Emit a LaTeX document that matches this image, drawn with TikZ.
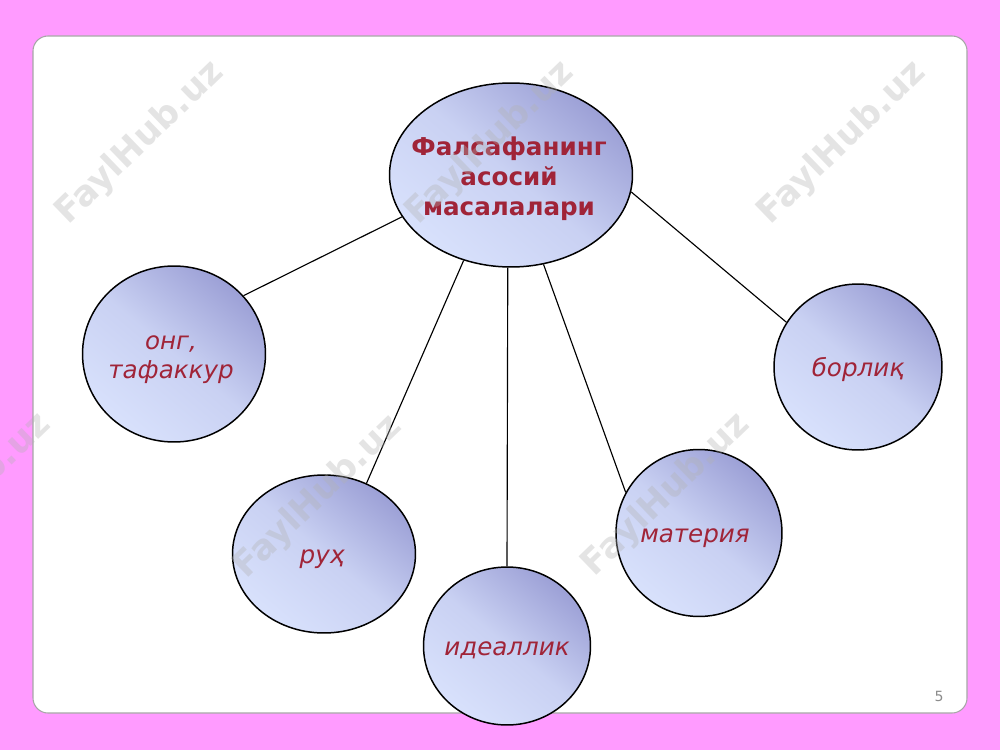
\documentclass[tikz,border=0pt]{standalone}
\usepackage{fontspec}
\setmainfont{DejaVu Sans}[ItalicFont={DejaVu Sans Oblique},BoldFont={DejaVu Sans Bold}]
\usetikzlibrary{shapes.geometric}
\definecolor{slidepink}{RGB}{255,155,255}
\definecolor{bubdark}{RGB}{156,160,214}
\definecolor{bublight}{RGB}{216,225,252}
\definecolor{wordred}{RGB}{160,36,56}
\tikzset{
	bubble/.style={ellipse, draw=black, line width=0.85pt, inner sep=0pt,
		top color=bubdark, bottom color=bublight, middle color=bublight!75!bubdark, shading angle=-40},
	word/.style={text=wordred, font=\fontsize{14}{16.5}\selectfont\itshape, align=center},
	bigword/.style={text=wordred, font=\fontsize{14}{17}\selectfont\bfseries, align=center},
	spoke/.style={line width=0.65pt, color=black},
	wmark/.style={text=black!30, text opacity=0.35, font=\fontsize{20}{20}\selectfont\bfseries, rotate=44}
}

\begin{document}
\begin{tikzpicture}[x=0.02cm, y=-0.02cm]
			%%%%% START %%%%%
			
			\useasboundingbox (0, 0) rectangle (1000, 750);
			\fill[slidepink] (0, 0) rectangle (1000, 750);
			\draw[fill=white, draw=black!35, line width=0.6pt, rounded corners=0.3cm] (33, 36) rectangle (967, 713);
			
			\node[bubble, minimum width=4.86cm, minimum height=3.68cm] (top) at (511, 175) {};
			\node[bubble, minimum width=3.66cm, minimum height=3.52cm] (ong) at (174, 354) {};
			\node[bubble, minimum width=3.36cm, minimum height=3.32cm] (borliq) at (858, 367) {};
			\node[bubble, minimum width=3.66cm, minimum height=3.16cm] (ruh) at (324, 554) {};
			\node[bubble, minimum width=3.34cm, minimum height=3.16cm] (ideal) at (507, 646) {};
			\node[bubble, minimum width=3.32cm, minimum height=3.34cm] (materiya) at (699, 533) {};
			
			\draw[spoke] (top.201) -- (ong.40);
			\draw[spoke] (top.241) -- (ruh.59);
			\draw[spoke] (top.268) -- (ideal.north);
			\draw[spoke] (top.290) -- (materiya.151);
			\draw[spoke] (top.352) -- (borliq.148);
			
			\node[bigword] (toptxt) at (509, 179) {Фалсафанинг\\асосий\\масалалари};
			\node[word] (ongtxt) at (171, 360) {онг,\\тафаккур};
			\node[word] (borliqtxt) at (858, 370) {борлиқ};
			\node[word] (ruhtxt) at (322, 559) {руҳ};
			\node[word] (idealtxt) at (507, 650) {идеаллик};
			\node[word] (materiyatxt) at (695, 538) {материя};
			
			\node[text=black!45, font=\fontsize{8}{8}\selectfont] (pagenum) at (939, 696) {5};
			
			\foreach \wx/\wy [count=\i] in {140/143, 490/143, 842/143, -33/495, 318/497, 666/495}
				\node[wmark] (wm\i) at (\wx, \wy) {FaylHub.uz};
			
			%%%%% END %%%%%
\end{tikzpicture}
\end{document}
